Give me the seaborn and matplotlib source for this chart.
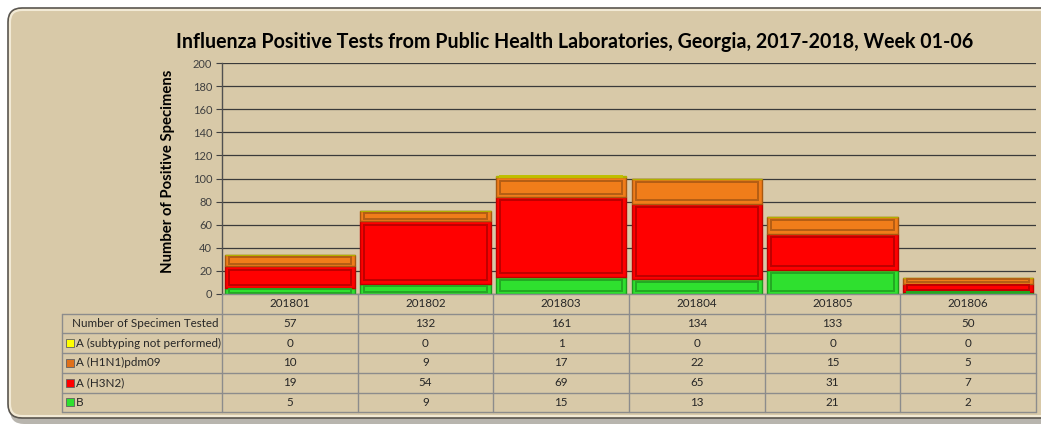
import numpy as np
import pandas as pd
import matplotlib
matplotlib.use("Agg")
import matplotlib.pyplot as plt
from matplotlib.patches import FancyBboxPatch, Rectangle
import seaborn as sns

# ---------------------------------------------
# data
# ---------------------------------------------
weeks = ['201801', '201802', '201803', '201804', '201805', '201806']
tested = [57, 132, 161, 134, 133, 50]
a_unsub = [0, 0, 1, 0, 0, 0]
h1n1 = [10, 9, 17, 22, 15, 5]
h3n2 = [19, 54, 69, 65, 31, 7]
flu_b = [5, 9, 15, 13, 21, 2]

# stacked bottom -> top
series = [
    ('B', flu_b, '#2fe02f', '#1c9c1c'),
    ('A (H3N2)', h3n2, '#ff0000', '#c00000'),
    ('A (H1N1)pdm09', h1n1, '#f07d1a', '#a85810'),
    ('A (subtyping not performed)', a_unsub, '#ffff00', '#b0b000'),
]
# table rows, top -> bottom
table_rows = [
    ('Number of Specimen Tested', tested, None),
    ('A (subtyping not performed)', a_unsub, '#ffff00'),
    ('A (H1N1)pdm09', h1n1, '#e0701a'),
    ('A (H3N2)', h3n2, '#ff0000'),
    ('B', flu_b, '#2fe02f'),
]

W, H = 1041, 428
sns.set_style("white")
plt.rcParams['font.family'] = ['Lato', 'DejaVu Sans']
txt_col = '#262626'
bg_col = '#d8c9a8'
fs_tab = 8.4

fig = plt.figure(figsize=(W / 100, H / 100), dpi=100, facecolor='white')

# background panel (pixel coordinates)
bg = fig.add_axes([0, 0, 1, 1], zorder=-5)
bg.set_xlim(0, W)
bg.set_ylim(H, 0)
bg.axis('off')
bg.add_patch(FancyBboxPatch((10, 12), 1060, 412, boxstyle="round,pad=0,rounding_size=14",
                            facecolor='#8a8478', edgecolor='none', alpha=0.6))
bg.add_patch(FancyBboxPatch((8, 8), 1060, 410, boxstyle="round,pad=0,rounding_size=14",
                            facecolor=bg_col, edgecolor='#5a5650', linewidth=1.2))
bg.add_patch(FancyBboxPatch((10, 10), 1060, 406, boxstyle="round,pad=0,rounding_size=12",
                            facecolor='none', edgecolor='#f2ead6', linewidth=1.5))

# ---------------------------------------------
# stacked bars
# ---------------------------------------------
ax = fig.add_axes([222 / W, 1 - 294 / H, (1036 - 222) / W, (294 - 63) / H])
ax.set_facecolor('none')
bottom = np.zeros(len(weeks))
for name, vals, fc, ec in series:
    sns.barplot(x=weeks, y=vals, bottom=bottom, color=fc, edgecolor=ec, linewidth=1.0,
                width=0.96, errorbar=None, saturation=1, ax=ax, zorder=3)
    bottom = bottom + np.array(vals)

# bevel look: soft inset outline on each bar segment
for p in list(ax.patches):
    x0, y0, w, h = p.get_x(), p.get_y(), p.get_width(), p.get_height()
    if h <= 0:
        continue
    fc = p.get_facecolor()
    dy = min(3.0, h * 0.22)
    ax.add_patch(Rectangle((x0 + 0.03, y0 + dy), w - 0.06, h - 2 * dy, facecolor='none',
                           edgecolor=tuple(c * 0.75 for c in fc[:3]), linewidth=1.4, zorder=4))

ax.set_ylim(0, 200)
ax.set_xlim(-0.5, len(weeks) - 0.5)
ax.set_yticks(range(0, 201, 20))
ax.yaxis.grid(True, color='#3a3a3a', linewidth=0.9, zorder=0)
ax.set_axisbelow(True)
ax.tick_params(axis='y', labelsize=8, colors='#404040', length=4, width=0.8, direction='out', left=True,
               pad=3)
ax.tick_params(axis='x', length=0, labelbottom=False)
ax.set_xlabel('')
for s in ['top', 'right', 'bottom']:
    ax.spines[s].set_visible(False)
ax.spines['left'].set_color('#505050')
ax.spines['left'].set_linewidth(1.0)
ax.set_ylabel('Number of Positive Specimens', fontsize=10.7, fontweight='bold', color='black')
ax.yaxis.set_label_coords(-0.058, 0.53)

fig.text(575 / W, 1 - 42 / H, 'Influenza Positive Tests from Public Health Laboratories, Georgia, 2017-2018, Week 01-06',
         ha='center', va='center', fontsize=14.1, fontweight='bold', color='black')

# ---------------------------------------------
# data table under the chart
# ---------------------------------------------
tab = fig.add_axes([0, 0, 1, 1], zorder=2)
tab.set_xlim(0, W)
tab.set_ylim(H, 0)
tab.axis('off')
grid_c = '#8c8c8c'
x_left, x_lab, x_right = 62, 222, 1036
col_w = (x_right - x_lab) / len(weeks)
y_top = 294
row_h = 19.7
n_rows = len(table_rows)
y_bot = y_top + row_h * (n_rows + 1)

# header row (week labels)
tab.plot([x_lab, x_right], [y_top, y_top], color=grid_c, lw=1)
for i in range(len(weeks) + 1):
    xx = x_lab + i * col_w
    tab.plot([xx, xx], [y_top, y_bot], color=grid_c, lw=1)
for i, wk in enumerate(weeks):
    tab.text(x_lab + (i + 0.5) * col_w, y_top + row_h / 2, wk, ha='center', va='center',
             fontsize=fs_tab, color=txt_col)
# body rows
for r in range(n_rows + 1):
    yy = y_top + row_h * (r + 1)
    tab.plot([x_left, x_right], [yy, yy], color=grid_c, lw=1)
tab.plot([x_left, x_left], [y_top + row_h, y_bot], color=grid_c, lw=1)
for r, (label, vals, mc) in enumerate(table_rows):
    yc = y_top + row_h * (r + 1.5)
    if mc is None:
        tab.text(x_lab - 4, yc, label, ha='right', va='center', fontsize=fs_tab, color=txt_col)
    else:
        tab.add_patch(Rectangle((66, yc - 4), 8, 8, facecolor=mc, edgecolor='#606060', lw=0.6))
        tab.text(76, yc, label, ha='left', va='center', fontsize=fs_tab, color=txt_col)
    for i, v in enumerate(vals):
        tab.text(x_lab + (i + 0.5) * col_w, yc, str(v), ha='center', va='center',
                 fontsize=fs_tab, color=txt_col)

fig.savefig('out.png', dpi=100, facecolor='white')
